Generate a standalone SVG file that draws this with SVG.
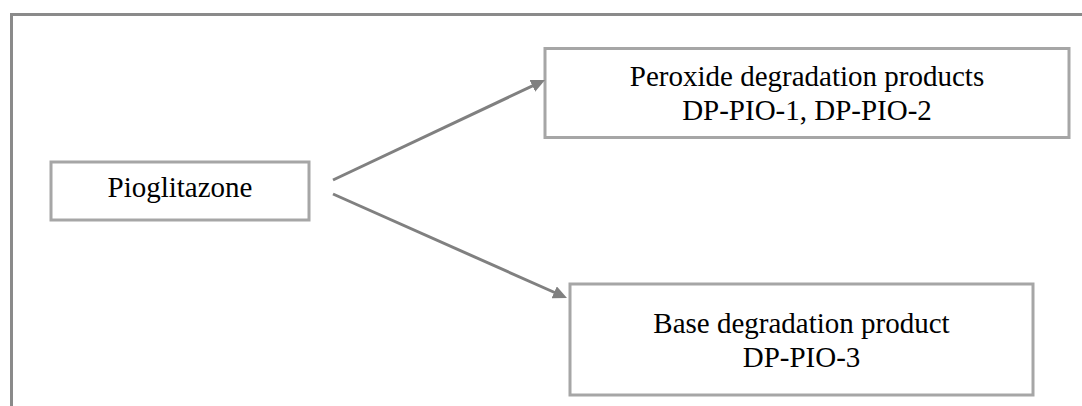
<svg xmlns="http://www.w3.org/2000/svg" width="1082" height="406" viewBox="0 0 1082 406">
<style>
.frame{stroke:#8a8a8a;stroke-width:3;fill:none}
.box{fill:#ffffff;stroke:#a6a6a6;stroke-width:3}
.lbl{font-family:"Liberation Serif","Times New Roman",serif;font-size:29px;fill:#000;text-anchor:middle}
.conn{stroke:#808080;stroke-width:3;fill:none}
</style>
<defs>
<marker id="ah" markerUnits="userSpaceOnUse" markerWidth="15" markerHeight="13" refX="6" refY="6.5" orient="auto">
<path d="M0,0 L14,6.5 L0,13 z" fill="#808080"/>
</marker>
</defs>
<rect width="1082" height="406" fill="#ffffff"/>
<path class="frame" d="M11.5,406 L11.5,14.5 L1082,14.5"/>
<g id="n-pioglitazone">
<rect class="box" x="51" y="162" width="258" height="58"/>
<text class="lbl" x="180" y="197">Pioglitazone</text>
</g>
<g id="n-peroxide">
<rect class="box" x="545" y="48.5" width="524" height="89"/>
<text class="lbl" x="807" y="86">Peroxide degradation products</text>
<text class="lbl" x="807" y="120">DP-PIO-1, DP-PIO-2</text>
</g>
<g id="n-base">
<rect class="box" x="570" y="284" width="463" height="111"/>
<text class="lbl" x="801.5" y="333">Base degradation product</text>
<text class="lbl" x="801.5" y="367">DP-PIO-3</text>
</g>
<g id="connectors">
<line class="conn" x1="333" y1="180" x2="537.8" y2="83.4" marker-end="url(#ah)"/>
<line class="conn" x1="333" y1="194" x2="559.7" y2="294.75" marker-end="url(#ah)"/>
</g>
</svg>
